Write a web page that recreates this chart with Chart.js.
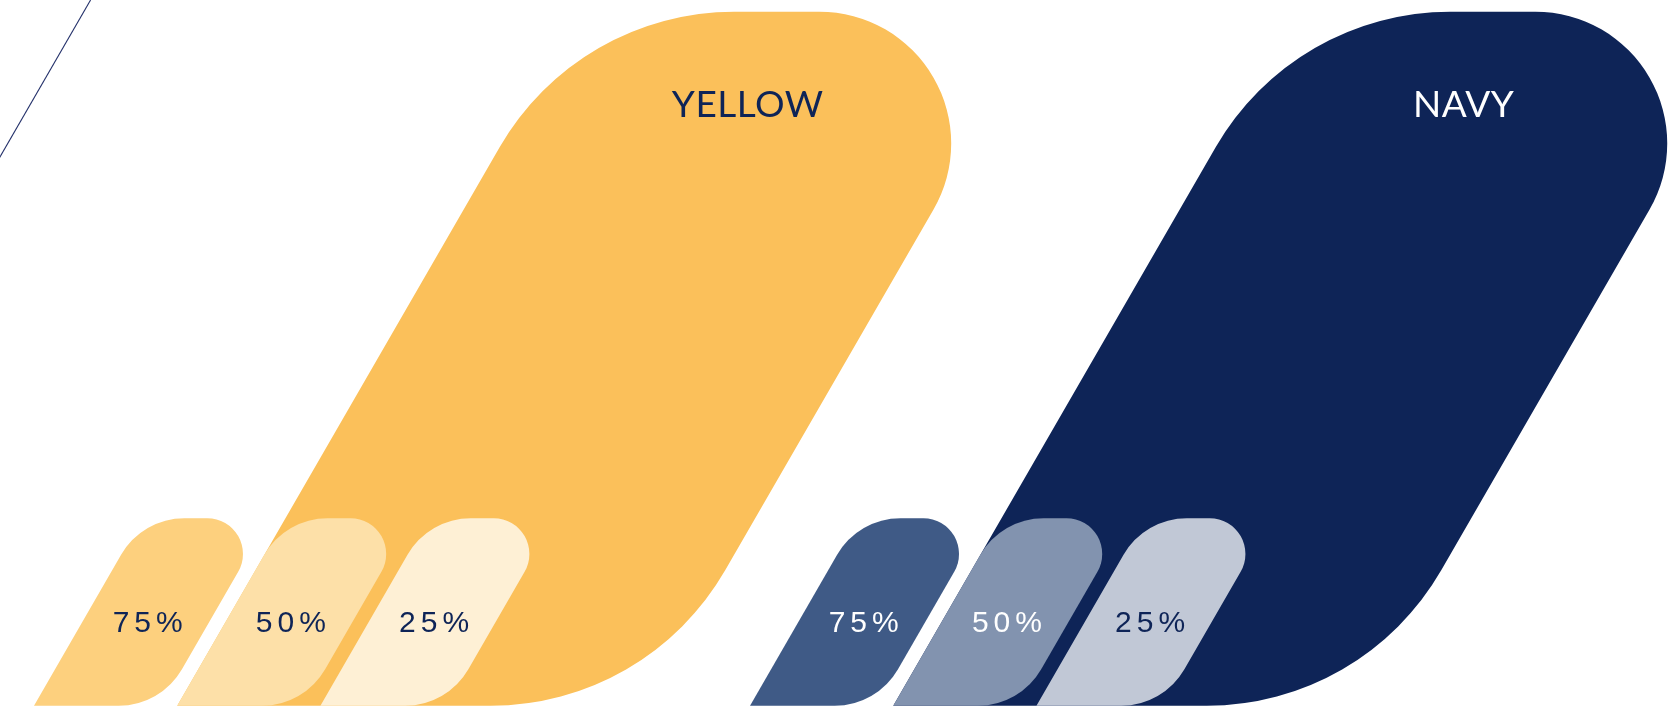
<!DOCTYPE html>
<html>
<head>
<meta charset="utf-8">
<title>Brand colours</title>
<script src="https://cdn.jsdelivr.net/npm/chart.js@4.4.1/dist/chart.umd.min.js"></script>
<style>
    html, body { margin: 0; padding: 0; background: #ffffff; }
    #wrap { width: 1669px; height: 712px; position: relative; }
</style>
</head>
<body>
<div id="wrap"><canvas id="swatches"></canvas></div>
<script>
// ---------------------------------------------------------------------
// data
// ---------------------------------------------------------------------
const swatchNames = ["YELLOW", "NAVY"];
const baseValues = [100, 100];
const tintLevels = [75, 50, 25];
const tintLabels = ["75%", "50%", "25%"];
const guideAnchors = [-2.45];

// ---------------------------------------------------------------------
// styles
// ---------------------------------------------------------------------
const baseColors = ["#FBC05A", "#0E2457"];
const tintColors = [
    ["#FDD07E", "#FDE0A8", "#FEF0D5"],
    ["#3F5A86", "#8293AF", "#C1C8D6"]
];
const baseTextColors = ["#0E2457", "#FFFFFF"];
const tintTextColors = [
    ["#0E2457", "#0E2457", "#0E2457"],
    ["#FFFFFF", "#FFFFFF", "#0E2457"]
];

// layout (in axis units)
const GROUP_STRIDE = 5;   // distance between colour families
const BASE_SLOT = 1;      // the big swatch starts under the 2nd tint
const TINT_HEIGHT = 27;   // tint swatches are 27% as tall as the base

// shape proportions, relative to swatch height
const SLANT = 1 / Math.tan(Math.PI / 3);   // 60 degree lean
const SHAPE = { width: 0.677, rBig: 0.39, rSmall: 0.19 };

const baseData = swatchNames.map((n, g) => ({ x: g * GROUP_STRIDE + BASE_SLOT, y: baseValues[g] }));
const tintData = [];
const tintFill = [];
const tintText = [];
const tintTextColor = [];
swatchNames.forEach((n, g) => {
    tintLevels.forEach((lvl, t) => {
        tintData.push({ x: g * GROUP_STRIDE + t, y: TINT_HEIGHT });
        tintFill.push(tintColors[g][t]);
        tintText.push(tintLabels[t]);
        tintTextColor.push(tintTextColors[g][t]);
    });
});

function swatchPath(ctx, x0, yb, yt) {
    const h = yb - yt;
    const w = SHAPE.width * h;
    const s = h * SLANT;
    const bl = [x0, yb], br = [x0 + w, yb], tr = [x0 + w + s, yt], tl = [x0 + s, yt];
    ctx.beginPath();
    ctx.moveTo(bl[0], bl[1]);
    ctx.arcTo(br[0], br[1], tr[0], tr[1], SHAPE.rBig * h);
    ctx.arcTo(tr[0], tr[1], tl[0], tl[1], SHAPE.rSmall * h);
    ctx.arcTo(tl[0], tl[1], bl[0], bl[1], SHAPE.rBig * h);
    ctx.lineTo(bl[0], bl[1]);
    ctx.closePath();
}

const swatchPlugin = {
    id: "swatchShapes",
    afterDatasetsDraw(chart) {
        const { ctx, scales } = chart;
        const yb = scales.y.getPixelForValue(0);
        ctx.save();

        // thin guide line, leaning like the swatches
        guideAnchors.forEach((a) => {
            const gx = scales.x.getPixelForValue(a);
            ctx.beginPath();
            ctx.moveTo(gx, yb);
            ctx.lineTo(gx + yb * SLANT, 0);
            ctx.strokeStyle = "#23306A";
            ctx.lineWidth = 1.1;
            ctx.stroke();
        });

        chart.data.datasets.forEach((ds, di) => {
            const meta = chart.getDatasetMeta(di);
            meta.data.forEach((pt, i) => {
                const yt = pt.y;
                const h = yb - yt;
                swatchPath(ctx, pt.x, yb, yt);
                ctx.fillStyle = ds.shapeColors[i];
                ctx.fill();

                ctx.fillStyle = ds.textColors[i];
                ctx.font = ds.textFont;
                ctx.letterSpacing = ds.textSpacing;
                ctx.textAlign = "center";
                ctx.textBaseline = "alphabetic";
                ctx.fillText(ds.texts[i], pt.x + ds.textDx * h, yt + ds.textDy * h);
            });
        });
        ctx.restore();
    }
};

new Chart(document.getElementById("swatches").getContext("2d"), {
    type: "scatter",
    data: {
        datasets: [
            {
                label: "base",
                data: baseData,
                pointRadius: 0,
                shapeColors: baseColors,
                texts: swatchNames,
                textColors: baseTextColors,
                textFont: "400 37px Lato, sans-serif",
                textSpacing: "0.5px",
                textDx: 0.822,
                textDy: 0.152
            },
            {
                label: "tints",
                data: tintData,
                pointRadius: 0,
                shapeColors: tintFill,
                texts: tintText,
                textColors: tintTextColor,
                textFont: "400 30px 'Liberation Sans', sans-serif",
                textSpacing: "5px",
                textDx: 0.62,
                textDy: 0.607
            }
        ]
    },
    options: {
        responsive: true,
        maintainAspectRatio: false,
        animation: false,
        layout: { padding: { top: 11.7, bottom: 6.3, left: 0, right: 0 } },
        plugins: { legend: { display: false }, tooltip: { enabled: false } },
        scales: {
            x: { type: "linear", display: false, min: -0.2374, max: 11.417 },
            y: { type: "linear", display: false, min: 0, max: 100 }
        }
    },
    plugins: [swatchPlugin]
});
</script>
</body>
</html>
